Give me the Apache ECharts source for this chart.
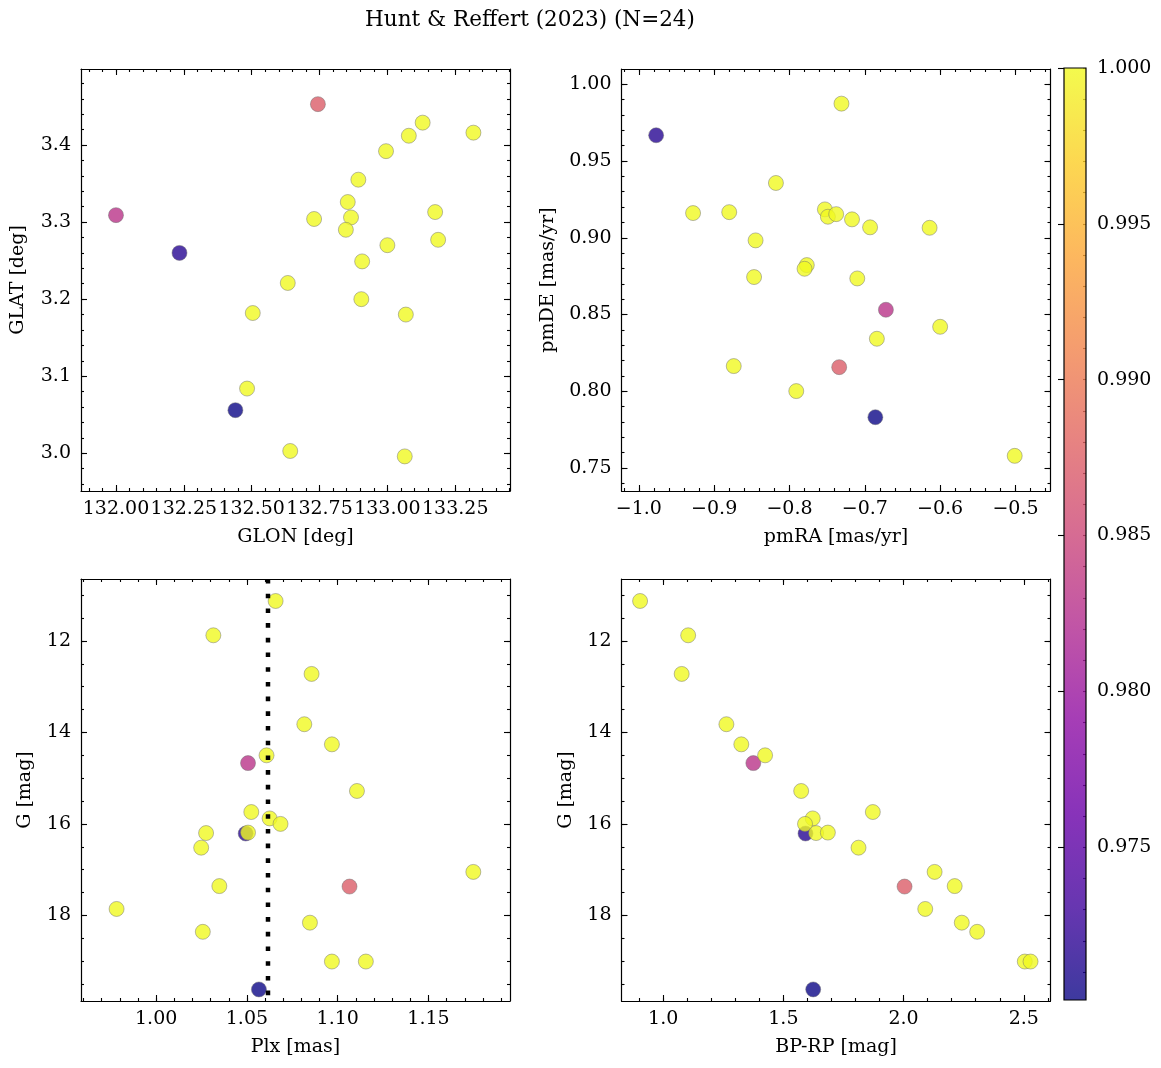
<!DOCTYPE html>
<html><head><meta charset="utf-8">
<script src="https://cdn.jsdelivr.net/npm/echarts@6/dist/echarts.min.js"></script>
<style>html,body{margin:0;padding:0;background:#fff;}#c{width:1161px;height:1068px;}</style>
</head><body><div id="c"></div>
<script>
// ---- data (one entry per star) ----
const glon = [132.440, 132.234, 132.000, 132.744, 133.130, 133.079, 133.317, 132.995, 132.893, 132.854, 132.730, 132.866, 132.847, 133.176, 133.000, 133.187, 132.907, 132.633, 132.904, 132.504, 133.068, 132.483, 132.642, 133.064];
const glat = [3.056, 3.260, 3.309, 3.453, 3.429, 3.412, 3.416, 3.392, 3.355, 3.326, 3.304, 3.306, 3.290, 3.313, 3.270, 3.277, 3.249, 3.221, 3.200, 3.182, 3.180, 3.084, 3.003, 2.996];
const pmra = [-0.686, -0.977, -0.672, -0.734, -0.731, -0.818, -0.928, -0.880, -0.753, -0.749, -0.738, -0.717, -0.693, -0.614, -0.845, -0.777, -0.780, -0.847, -0.710, -0.600, -0.684, -0.874, -0.791, -0.501];
const pmde = [0.7831, 0.9668, 0.8531, 0.8157, 0.9874, 0.9357, 0.9161, 0.9167, 0.9185, 0.9137, 0.9154, 0.9120, 0.9068, 0.9065, 0.8983, 0.8822, 0.8798, 0.8744, 0.8735, 0.8420, 0.8342, 0.8164, 0.8001, 0.7579];
const plx = [1.0566, 1.0493, 1.0506, 1.1065, 1.0658, 1.0315, 1.0856, 1.0816, 1.0968, 1.0608, 1.1106, 1.0524, 1.0625, 1.0685, 1.0275, 1.0506, 1.0248, 1.1747, 1.0348, 0.9782, 1.0847, 1.0257, 1.0968, 1.1155];
const gmag = [19.62, 16.21, 14.67, 17.37, 11.125, 11.875, 12.72, 13.82, 14.26, 14.50, 15.28, 15.74, 15.88, 16.00, 16.20, 16.19, 16.52, 17.05, 17.36, 17.86, 18.16, 18.36, 19.01, 19.01];
const bprp = [1.624, 1.592, 1.375, 2.004, 0.904, 1.104, 1.077, 1.263, 1.325, 1.424, 1.574, 1.872, 1.622, 1.590, 1.636, 1.685, 1.8125, 2.129, 2.2125, 2.090, 2.242, 2.306, 2.504, 2.528];
const prob = [0.9701, 0.9716, 0.9830, 0.9872, 1.0, 1.0, 1.0, 1.0, 1.0, 1.0, 1.0, 1.0, 1.0, 1.0, 1.0, 1.0, 1.0, 1.0, 1.0, 1.0, 1.0, 1.0, 1.0, 1.0];
const plxRef = 1.0616;

// ---- tick labels ----
const glonTicks = [132.00, 132.25, 132.50, 132.75, 133.00, 133.25];
const glatTicks = [3.0, 3.1, 3.2, 3.3, 3.4];
const pmraTicks = [-1.0, -0.9, -0.8, -0.7, -0.6, -0.5];
const pmdeTicks = [0.75, 0.80, 0.85, 0.90, 0.95, 1.00];
const plxTicks = [1.00, 1.05, 1.10, 1.15];
const gTicks = [12, 14, 16, 18];
const bprpTicks = [1.0, 1.5, 2.0, 2.5];
const probTicks = [0.975, 0.980, 0.985, 0.990, 0.995, 1.000];

const title = 'Hunt & Reffert (2023) (N=24)';
const plasma = ['#0d0887','#41049d','#6a00a8','#8f0da4','#b12a90','#cc4778','#e16462','#f2844b','#fca636','#fcce25','#f0f921'];

const FONT = "'DejaVu Serif', serif";
const FS = 19;

function minorTicks(lo, hi, step) {
  const out = [];
  const start = Math.ceil(lo / step - 1e-9);
  for (let k = start; k * step <= hi + 1e-12; k++) out.push(Math.round(k * step * 1e6) / 1e6);
  return out;
}
function fmt(d) { return v => Number(v).toFixed(d).replace('-', '\u2212'); }

const xAxes = [], yAxes = [];
function addAxisSet(list, gi, dim, c) {
  const pos = dim === 'x' ? ['bottom', 'top'] : ['left', 'right'];
  const minor = minorTicks(c.min, c.max, c.minorStep);
  const base = () => ({
    type: 'value', gridIndex: gi, min: c.min, max: c.max, inverse: !!c.inverse,
    splitLine: { show: false }, minorTick: { show: false }, minorSplitLine: { show: false },
    axisPointer: { show: false }, silent: true
  });
  const idx = list.length;
  const lineStyle = { color: '#000', width: 1.2 };
  const tickStyle = { color: '#000', width: 1.1 };
  list.push(Object.assign(base(), {
    position: pos[0],
    axisLine: { show: true, onZero: false, lineStyle },
    axisTick: { show: true, inside: true, length: 6, customValues: c.major, lineStyle: tickStyle },
    axisLabel: { show: true, customValues: c.major, formatter: fmt(c.dec), margin: c.margin,
      fontFamily: FONT, fontSize: FS, color: '#000', hideOverlap: false },
    name: c.name || '', nameLocation: 'middle', nameGap: c.nameGap || 0, nameRotate: dim === 'y' ? 90 : 0,
    nameTextStyle: { fontFamily: FONT, fontSize: FS, color: '#000' }
  }));
  list.push(Object.assign(base(), {
    position: pos[0], axisLine: { show: false, onZero: false },
    axisTick: { show: true, inside: true, length: 3, customValues: minor, lineStyle: tickStyle },
    axisLabel: { show: false }
  }));
  list.push(Object.assign(base(), {
    position: pos[1], axisLine: { show: true, onZero: false, lineStyle },
    axisTick: { show: true, inside: true, length: 6, customValues: c.major, lineStyle: tickStyle },
    axisLabel: { show: false }
  }));
  list.push(Object.assign(base(), {
    position: pos[1], axisLine: { show: false, onZero: false },
    axisTick: { show: true, inside: true, length: 3, customValues: minor, lineStyle: tickStyle },
    axisLabel: { show: false }
  }));
  return idx;
}

const grids = [
  { left: 81, top: 69, width: 429, height: 422 },
  { left: 621.5, top: 69, width: 429, height: 422 },
  { left: 81, top: 579, width: 429, height: 422 },
  { left: 621.5, top: 579, width: 429, height: 422 },
  { left: 1064, top: 68, width: 22, height: 932 }
];

const gLim = [10.644, 19.873];
const ax = [];
ax.push({ x: addAxisSet(xAxes, 0, 'x', { min: 131.8711, max: 133.4518, major: glonTicks, minorStep: 0.05, dec: 2, margin: 9, name: 'GLON [deg]', nameGap: 37 }),
          y: addAxisSet(yAxes, 0, 'y', { min: 2.9511, max: 3.4986, major: glatTicks, minorStep: 0.02, dec: 1, margin: 10, name: 'GLAT [deg]', nameGap: 53 }) });
ax.push({ x: addAxisSet(xAxes, 1, 'x', { min: -1.0230, max: -0.4535, major: pmraTicks, minorStep: 0.02, dec: 1, margin: 9, name: 'pmRA [mas/yr]', nameGap: 37 }),
          y: addAxisSet(yAxes, 1, 'y', { min: 0.7350, max: 1.00997, major: pmdeTicks, minorStep: 0.01, dec: 2, margin: 10, name: 'pmDE [mas/yr]', nameGap: 64 }) });
ax.push({ x: addAxisSet(xAxes, 2, 'x', { min: 0.9586, max: 1.1949, major: plxTicks, minorStep: 0.01, dec: 2, margin: 9, name: 'Plx [mas]', nameGap: 37 }),
          y: addAxisSet(yAxes, 2, 'y', { min: gLim[0], max: gLim[1], inverse: true, major: gTicks, minorStep: 0.5, dec: 0, margin: 10, name: 'G [mag]', nameGap: 46 }) });
ax.push({ x: addAxisSet(xAxes, 3, 'x', { min: 0.8267, max: 2.611, major: bprpTicks, minorStep: 0.1, dec: 1, margin: 9, name: 'BP-RP [mag]', nameGap: 37 }),
          y: addAxisSet(yAxes, 3, 'y', { min: gLim[0], max: gLim[1], inverse: true, major: gTicks, minorStep: 0.5, dec: 0, margin: 10, name: 'G [mag]', nameGap: 46 }) });

const cbMin = Math.min(...prob), cbMax = Math.max(...prob);
const cbX = xAxes.length;
xAxes.push({ type: 'value', gridIndex: 4, min: 0, max: 1, show: false });
const cbY = yAxes.length;
yAxes.push({ type: 'value', gridIndex: 4, min: cbMin, max: cbMax, position: 'right', splitLine: { show: false },
  axisLine: { show: false }, axisTick: { show: true, inside: true, length: 6, customValues: probTicks, lineStyle: { color: '#000', width: 1.1 } },
  axisLabel: { show: true, customValues: probTicks, formatter: fmt(3), margin: 11, fontFamily: FONT, fontSize: FS, color: '#000' } });
yAxes.push({ type: 'value', gridIndex: 4, min: cbMin, max: cbMax, position: 'right', splitLine: { show: false },
  axisLine: { show: false }, axisTick: { show: true, inside: true, length: 3, customValues: minorTicks(cbMin, cbMax, 0.001), lineStyle: { color: '#000', width: 1.1 } },
  axisLabel: { show: false } });

// higher probabilities drawn on top
const order = prob.map((p, i) => i).sort((a, b) => prob[a] - prob[b]);
function pts(xs, ys) { return order.map(i => [xs[i], ys[i], prob[i]]); }

const scatterStyle = { opacity: 0.8, borderColor: '#707070', borderWidth: 0.6 };
function scatter(k, data) {
  return { type: 'scatter', xAxisIndex: ax[k].x, yAxisIndex: ax[k].y, data, symbolSize: 15,
    itemStyle: scatterStyle, silent: true, z: 2 };
}

function hexA(h, a) {
  const r = parseInt(h.slice(1, 3), 16), g = parseInt(h.slice(3, 5), 16), b = parseInt(h.slice(5, 7), 16);
  return 'rgba(' + r + ',' + g + ',' + b + ',' + a + ')';
}
const cbStops = plasma.map((c, i) => ({ offset: i / (plasma.length - 1), color: hexA(c, 0.8) }));

const option = {
  animation: false,
  backgroundColor: '#fff',
  graphic: [{ type: 'text', x: 530, y: 20, style: { text: title, fontFamily: FONT, fontSize: 21.5, fill: '#000', align: 'center', verticalAlign: 'middle' } }],
  grid: grids,
  xAxis: xAxes,
  yAxis: yAxes,
  visualMap: { type: 'continuous', show: false, min: cbMin, max: cbMax, dimension: 2, seriesIndex: [0, 1, 2, 3], inRange: { color: plasma } },
  series: [
    scatter(0, pts(glon, glat)),
    scatter(1, pts(pmra, pmde)),
    scatter(2, pts(plx, gmag)),
    scatter(3, pts(bprp, gmag)),
    { type: 'line', xAxisIndex: ax[2].x, yAxisIndex: ax[2].y, data: [[plxRef, gLim[0]], [plxRef, gLim[1]]],
      symbol: 'none', silent: true, z: 5, lineStyle: { color: '#000', width: 4.5, type: [4.6, 10.1], cap: 'butt' } },
    { type: 'custom', xAxisIndex: cbX, yAxisIndex: cbY, data: [[0, cbMin, 1, cbMax]], silent: true, z: 1,
      renderItem: (params, api) => {
        const p0 = api.coord([api.value(0), api.value(3)]);
        const p1 = api.coord([api.value(2), api.value(1)]);
        const shape = { x: p0[0], y: p0[1], width: p1[0] - p0[0], height: p1[1] - p0[1] };
        return { type: 'group', children: [
          { type: 'rect', shape, style: { fill: new echarts.graphic.LinearGradient(0, 1, 0, 0, cbStops) } },
          { type: 'rect', shape, style: { fill: 'none', stroke: '#000', lineWidth: 1.2 } }
        ] };
      } }
  ]
};
const chart = echarts.init(document.getElementById('c'));
chart.setOption(option);
</script></body></html>
